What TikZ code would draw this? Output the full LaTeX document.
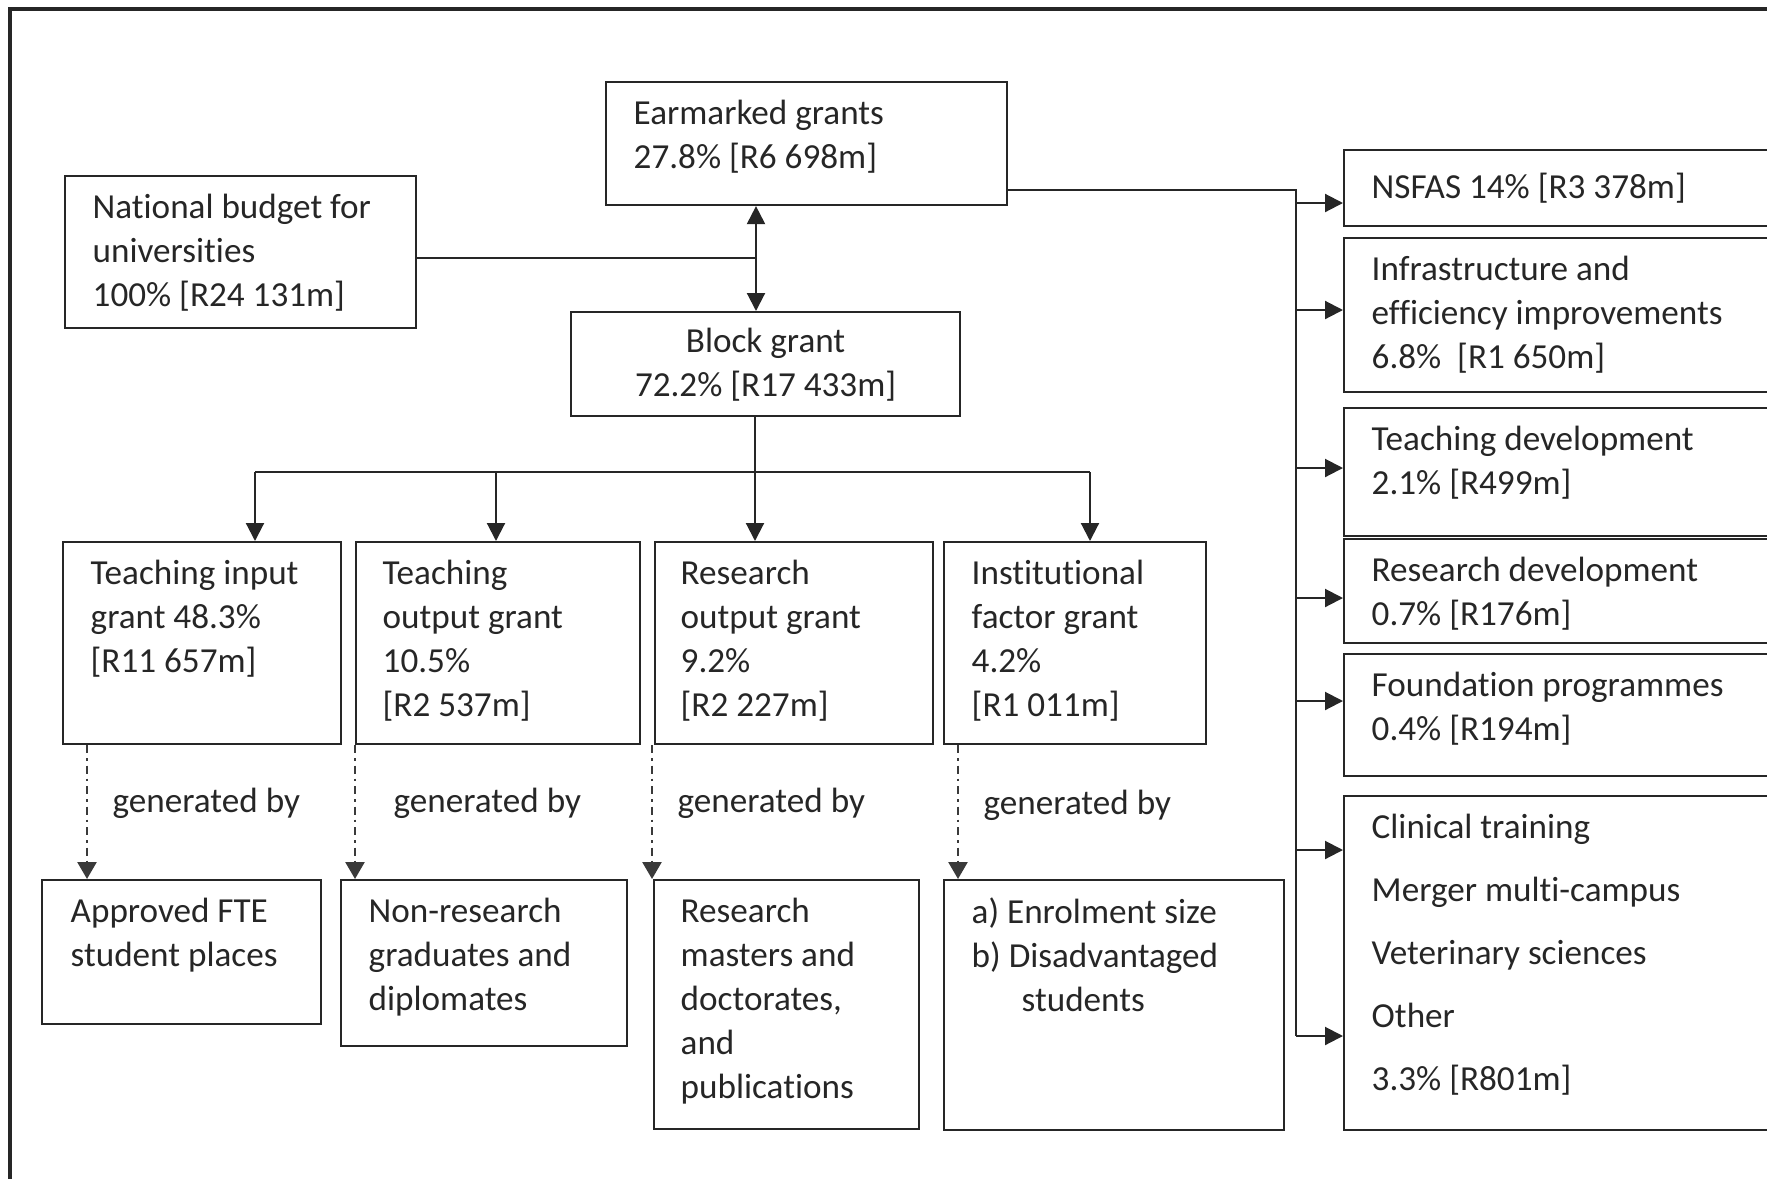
\documentclass[tikz,border=0pt]{standalone}
\usepackage{fontspec}
\setmainfont{Carlito}[Ligatures=NoCommon]
\usetikzlibrary{positioning,arrows.meta}
\definecolor{ink}{HTML}{262626}
\definecolor{dashgrey}{HTML}{3A3A3A}
\tikzstyle{grant}=[draw=ink, line width=0.6pt, inner sep=0, anchor=north west]
\tikzstyle{gtext}=[inner sep=0, align=left, text=ink, execute at begin node=\strut]
\tikzstyle{note}=[inner sep=0, text=ink, anchor=base west]
\tikzstyle{link}=[draw=ink, line width=0.6pt]
\tikzstyle{flow}=[link, -{Triangle[length=1.8mm, width=1.8mm]}]
\tikzstyle{gen}=[draw=dashgrey, line width=0.75pt, dash pattern=on 0.8mm off 0.5mm on 0.25mm off 0.5mm, -{Triangle[length=1.7mm, width=1.9mm]}]

\begin{document}
\begin{tikzpicture}[x=0.1mm, y=-0.1mm, font=\fontsize{10}{12.5}\selectfont]

\useasboundingbox (0,0) rectangle (1767,1179);
\clip (0,0) rectangle (1767,1179);

\draw [ink, line width=0.9pt] (10,1200) |- (1800,9);

% budget, earmarked and block grant
\node [grant, minimum width=35.1mm, minimum height=15.2mm] (nat)   at (64,175)  {};
\node [grant, minimum width=40.1mm, minimum height=12.3mm] (earm)  at (605,81)  {};
\node [grant, minimum width=38.9mm, minimum height=10.4mm] (block) at (570,311) {};

\node [gtext, below right=1.85mm and 2.8mm of nat.north west]  (natT)  {National budget for\\universities\\100\% [R24 131m]};
\node [gtext, below right=1.85mm and 2.8mm of earm.north west] (earmT) {Earmarked grants\\27.8\% [R6 698m]};
\node [gtext, align=center, below=1.65mm of block.north]       (blockT) {Block grant\\72.2\% [R17 433m]};

% block grant parts
\node [grant, minimum width=27.8mm, minimum height=20.2mm] (tin)  at (62,541)  {};
\node [grant, minimum width=28.4mm, minimum height=20.2mm] (tout) at (355,541) {};
\node [grant, minimum width=27.8mm, minimum height=20.2mm] (rout) at (654,541) {};
\node [grant, minimum width=26.2mm, minimum height=20.2mm] (inst) at (943,541) {};

\node [gtext, below right=1.85mm and 2.8mm of tin.north west]  (tinT)  {Teaching input\\grant 48.3\%\\{[}R11 657m]};
\node [gtext, below right=1.85mm and 2.7mm of tout.north west] (toutT) {Teaching\\output grant\\10.5\%\\{[}R2 537m]};
\node [gtext, below right=1.85mm and 2.6mm of rout.north west] (routT) {Research\\output grant\\9.2\%\\{[}R2 227m]};
\node [gtext, below right=1.85mm and 2.8mm of inst.north west] (instT) {Institutional\\factor grant\\4.2\%\\{[}R1 011m]};

% what generates them
\node [grant, minimum width=27.9mm, minimum height=14.4mm] (fte)    at (41,879)  {};
\node [grant, minimum width=28.6mm, minimum height=16.6mm] (nonres) at (340,879) {};
\node [grant, minimum width=26.5mm, minimum height=24.9mm] (resm)   at (653,879) {};
\node [grant, minimum width=34.0mm, minimum height=25.0mm] (enrol)  at (943,879) {};

\node [gtext, below right=1.85mm and 2.9mm of fte.north west]    (fteT)    {Approved FTE\\student places};
\node [gtext, below right=1.85mm and 2.8mm of nonres.north west] (nonresT) {Non-research\\graduates and\\diplomates};
\node [gtext, below right=1.85mm and 2.7mm of resm.north west]   (resmT)   {Research\\masters and\\doctorates,\\and\\publications};
\node [gtext, below right=1.85mm and 2.8mm of enrol.north west]  (enrolT)  {a) Enrolment size\\b) Disadvantaged\\\hspace*{5mm}students};

\node [note] (gen1) at (112,812) {generated by};
\node [note] (gen2) at (393,812) {generated by};
\node [note] (gen3) at (677,812) {generated by};
\node [note] (gen4) at (983,814) {generated by};

% earmarked parts
\node [grant, minimum width=44.7mm, minimum height=7.6mm]  (nsfas) at (1343,149) {};
\node [grant, minimum width=44.7mm, minimum height=15.4mm] (infra) at (1343,237) {};
\node [grant, minimum width=44.7mm, minimum height=12.8mm] (tdev)  at (1343,407) {};
\node [grant, minimum width=44.7mm, minimum height=10.4mm] (rdev)  at (1343,538) {};
\node [grant, minimum width=44.7mm, minimum height=12.2mm] (found) at (1343,653) {};
\node [grant, minimum width=44.7mm, minimum height=33.4mm] (clin)  at (1343,795) {};

\node [gtext, below right=1.85mm and 2.8mm of nsfas.north west] (nsfasT) {NSFAS 14\% [R3 378m]};
\node [gtext, below right=1.85mm and 2.8mm of infra.north west] (infraT) {Infrastructure and\\efficiency improvements\\6.8\% \ [R1 650m]};
\node [gtext, below right=1.85mm and 2.8mm of tdev.north west]  (tdevT)  {Teaching development\\2.1\% [R499m]};
\node [gtext, below right=1.85mm and 2.8mm of rdev.north west]  (rdevT)  {Research development\\0.7\% [R176m]};
\node [gtext, below right=1.85mm and 2.8mm of found.north west] (foundT) {Foundation programmes\\0.4\% [R194m]};
\node [gtext, below right=1.85mm and 2.8mm of clin.north west, font=\fontsize{10}{17.9}\selectfont] (clinT) {Clinical training\\Merger multi-campus\\Veterinary sciences\\Other\\3.3\% [R801m]};

% connectors
\coordinate (split) at (756,258);
\draw [link] (nat.east |- split) -- (split);
\draw [flow] (split) -- (split |- earm.south);
\draw [flow] (split) -- (split |- block.north);

\coordinate (bus) at (755,472);
\draw [link] (bus |- block.south) -- (bus);
\draw [link] (bus -| 255,0) -- (bus -| 1090,0);
\foreach \b/\x in {tin/255, tout/496, rout/755, inst/1090}
  \draw [flow] (bus -| \x,0) -- (\b.north -| \x,0);

\foreach \a/\b/\x in {tin/fte/87, tout/nonres/355, rout/resm/652, inst/enrol/958}
  \draw [gen] (\a.south -| \x,0) -- (\b.north -| \x,0);

\coordinate (ebus) at (1296,190);
\draw [link] (earm.east |- ebus) -- (ebus) -- (ebus |- 0,1036);
\foreach \b/\y in {nsfas/203, infra/310, tdev/468, rdev/598, found/701, clin/850, clin/1036}
  \draw [flow] (ebus |- 0,\y) -- (\b.west |- 0,\y);

\end{tikzpicture}
\end{document}
